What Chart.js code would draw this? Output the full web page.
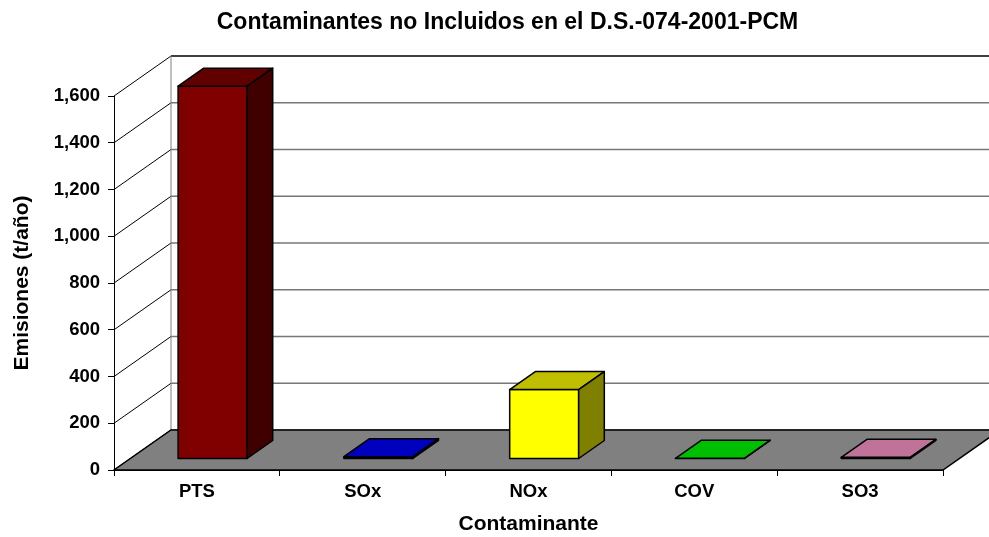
<!DOCTYPE html>
<html>
<head>
<meta charset="utf-8">
<script src="https://cdn.jsdelivr.net/npm/chart.js@4"></script>
<style>
  body { margin: 0; background: #fff; }
  #grafico { display: block; }
</style>
</head>
<body>
<canvas id="grafico" width="989" height="537"></canvas>
<script>
const categorias = ["PTS", "SOx", "NOx", "COV", "SO3"]
const emisiones = [1595, 10, 297, 3, 7] //t/año
const ejeYMin = 0
const ejeYMax = 1600
const ejeYPaso = 200

const coloresBarra = ["#800000", "#0000FF", "#FFFF00", "#00FF00", "#FF99CC"]
const fuente = "Arial, 'Liberation Sans', sans-serif"
const prof = { dx: 57, dy: -40 } //PROFUNDIDAD DEL PISO EN PIXELES
const barraIni = 0.275, barraFin = 0.725 //POSICION DE LA BARRA DENTRO DE LA PROFUNDIDAD

function sombra(hex, f) {
    const n = parseInt(hex.slice(1), 16)
    const r = Math.round(((n >> 16) & 255) * f)
    const g = Math.round(((n >> 8) & 255) * f)
    const b = Math.round((n & 255) * f)
    return `rgb(${r},${g},${b})`
}

function poligono(ctx, pts, relleno, borde, grosor) {
    ctx.beginPath()
    ctx.moveTo(pts[0][0], pts[0][1])
    for (let i = 1; i < pts.length; i++) ctx.lineTo(pts[i][0], pts[i][1])
    ctx.closePath()
    if (relleno) { ctx.fillStyle = relleno; ctx.fill() }
    if (borde) { ctx.strokeStyle = borde; ctx.lineWidth = grosor; ctx.stroke() }
}

const paredes3D = {
    id: "paredes3D",
    beforeDraw(chart) {
        const { ctx, chartArea: a, scales: { y } } = chart
        const y0 = y.getPixelForValue(ejeYMin)
        const yTop = y.getPixelForValue(ejeYMax)
        ctx.save()
        ctx.fillStyle = "#fff"
        ctx.fillRect(0, 0, chart.width, chart.height)

        //LINEAS DE LA GRILLA (PARED LATERAL Y FONDO)
        y.ticks.forEach((t) => {
            const py = y.getPixelForValue(t.value)
            ctx.beginPath()
            ctx.moveTo(a.left, py)
            ctx.lineTo(a.left + prof.dx, py + prof.dy)
            ctx.strokeStyle = "#000"
            ctx.lineWidth = 1
            ctx.stroke()
            ctx.beginPath()
            ctx.moveTo(a.left + prof.dx, py + prof.dy)
            ctx.lineTo(chart.width, py + prof.dy)
            if (t.value === ejeYMax) {
                ctx.strokeStyle = "#000"
                ctx.lineWidth = 1.5
            } else {
                ctx.strokeStyle = "#777"
                ctx.lineWidth = 1.5
            }
            ctx.stroke()
        })
        ctx.beginPath()
        ctx.moveTo(a.left + prof.dx, yTop + prof.dy)
        ctx.lineTo(a.left + prof.dx, y0 + prof.dy)
        ctx.strokeStyle = "#808080"
        ctx.lineWidth = 1
        ctx.stroke()

        //PISO
        poligono(ctx, [
            [a.left, y0],
            [a.right, y0],
            [a.right + prof.dx, y0 + prof.dy],
            [a.left + prof.dx, y0 + prof.dy]
        ], "#808080", "#000", 1.5)
        ctx.restore()
    },
    afterDatasetsDraw(chart) {
        const ctx = chart.ctx
        const meta = chart.getDatasetMeta(0)
        const ox = prof.dx * (barraFin - barraIni)
        const oy = prof.dy * (barraFin - barraIni)
        ctx.save()
        ctx.lineJoin = "round"
        meta.data.forEach((barra, i) => {
            const { x, y, base, width } = barra.getProps(["x", "y", "base", "width"], true)
            const L = x - width / 2 + prof.dx * barraIni
            const R = L + width
            const T = y + prof.dy * barraIni
            const B = base + prof.dy * barraIni
            const c = coloresBarra[i]
            poligono(ctx, [[L, T], [R, T], [R, B], [L, B]], c, "#000", 1.5)
            poligono(ctx, [[L, T], [R, T], [R + ox, T + oy], [L + ox, T + oy]], sombra(c, 0.75), "#000", 1.5)
            poligono(ctx, [[R, T], [R + ox, T + oy], [R + ox, B + oy], [R, B]], sombra(c, 0.5), "#000", 1.5)
        })
        ctx.restore()
    }
}

const grafico = new Chart(document.querySelector("#grafico"), {
    type: "bar",
    data: {
        labels: categorias,
        datasets: [{
            label: "Emisiones",
            data: emisiones,
            backgroundColor: "rgba(0,0,0,0)",
            borderWidth: 0,
            barPercentage: 0.416,
            categoryPercentage: 1
        }]
    },
    options: {
        responsive: false,
        animation: false,
        events: [],
        layout: { padding: { left: 26, right: 0, top: 0, bottom: 0 } }, //EL TITULO QUEDA UN POCO A LA DERECHA
        plugins: {
            legend: { display: false },
            tooltip: { enabled: false },
            title: {
                display: true,
                text: "Contaminantes no Incluidos en el D.S.-074-2001-PCM",
                color: "#000",
                font: { family: fuente, size: 23, weight: "bold" },
                padding: { top: 9, bottom: 59.4 }
            }
        },
        scales: {
            x: {
                afterFit(scale) { scale.height = 67 },
                grid: { offset: true, drawOnChartArea: false, drawTicks: true, tickLength: 6, color: "#000" },
                border: { display: true, color: "#000", width: 1 },
                ticks: { color: "#000", padding: 5, font: { family: fuente, size: 18.5, weight: "bold" } },
                title: {
                    display: true,
                    text: "Contaminante",
                    color: "#000",
                    font: { family: fuente, size: 21, weight: "bold" },
                    padding: { top: 0, bottom: 0 }
                }
            },
            y: {
                min: ejeYMin,
                max: ejeYMax,
                afterFit(scale) { scale.width = 88 },
                grid: { drawOnChartArea: false, drawTicks: true, tickLength: 6, color: "#000" },
                border: { display: true, color: "#000", width: 1 },
                ticks: {
                    stepSize: ejeYPaso,
                    color: "#000",
                    padding: 8,
                    font: { family: fuente, size: 18.5, weight: "bold" },
                    callback: (v) => v.toLocaleString("en-US")
                },
                title: {
                    display: true,
                    text: "Emisiones (t/año)",
                    color: "#000",
                    font: { family: fuente, size: 21, weight: "bold" },
                    padding: { top: -16.6, bottom: 0 }
                }
            },
            //EJE VACIO A LA DERECHA: DEJA ESPACIO PARA LA PROFUNDIDAD DEL PISO
            derecha: {
                type: "linear",
                position: "right",
                afterFit(scale) { scale.width = 46 },
                ticks: { display: false },
                grid: { display: false },
                border: { display: false }
            }
        }
    },
    plugins: [paredes3D]
})
</script>
</body>
</html>
